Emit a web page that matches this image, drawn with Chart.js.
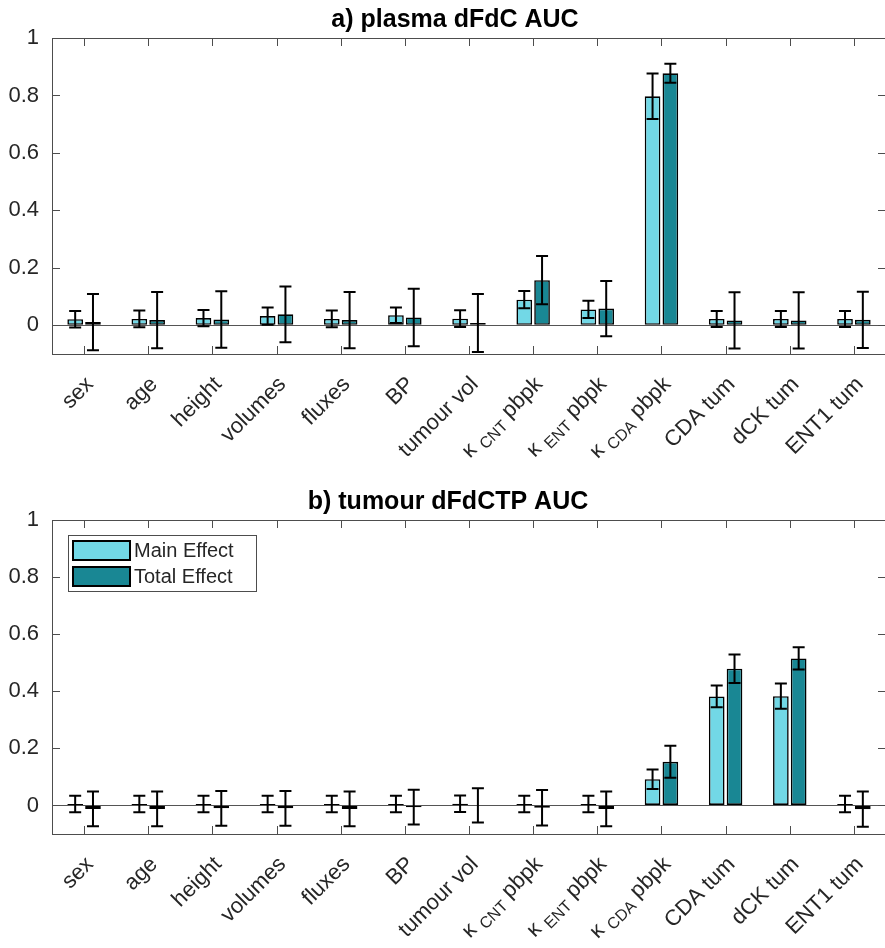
<!DOCTYPE html>
<html>
<head>
<meta charset="utf-8">
<script src="https://cdn.jsdelivr.net/npm/chart.js@4.4.1/dist/chart.umd.min.js"></script>
<style>
  html, body { margin: 0; padding: 0; background: #fff; overflow: hidden; width: 885px; height: 948px; }
  canvas { display: block; }
</style>
</head>
<body>
<canvas id="chartPlasma" width="888" height="474"></canvas>
<canvas id="chartTumour" width="888" height="474"></canvas>
<script>
// tex-like labels: _{...} is drawn as subscript
const categories = ['sex', 'age', 'height', 'volumes', 'fluxes', 'BP', 'tumour vol',
  'κ _{CNT} pbpk', 'κ _{ENT} pbpk', 'κ _{CDA} pbpk', 'CDA tum', 'dCK tum', 'ENT1 tum'];
const seriesNames = ['Main Effect', 'Total Effect'];
const yTicks = [0, 0.2, 0.4, 0.6, 0.8, 1];

// a) plasma dFdC AUC
const plasmaMain    = [0.021, 0.022, 0.025, 0.032, 0.022, 0.035, 0.023, 0.089, 0.055, 0.797, 0.022, 0.022, 0.022];
const plasmaMainErr = [0.029, 0.029, 0.028, 0.030, 0.029, 0.027, 0.029, 0.030, 0.030, 0.079, 0.028, 0.028, 0.028];
const plasmaTotal    = [0.011, 0.018, 0.020, 0.038, 0.018, 0.027, 0.008, 0.157, 0.058, 0.877, 0.017, 0.017, 0.019];
const plasmaTotalErr = [0.098, 0.098, 0.098, 0.097, 0.098, 0.100, 0.101, 0.084, 0.096, 0.033, 0.098, 0.098, 0.098];

// b) tumour dFdCTP AUC
const tumourMain    = [0.005, 0.005, 0.005, 0.005, 0.005, 0.005, 0.006, 0.005, 0.005, 0.092, 0.382, 0.383, 0.005];
const tumourMainErr = [0.029, 0.029, 0.029, 0.029, 0.029, 0.029, 0.029, 0.029, 0.029, 0.034, 0.038, 0.044, 0.029];
const tumourTotal    = [-0.012, -0.012, -0.010, -0.010, -0.012, -0.006, 0.000, -0.008, -0.012, 0.153, 0.479, 0.515, -0.013];
const tumourTotalErr = [0.061, 0.061, 0.061, 0.061, 0.061, 0.061, 0.060, 0.062, 0.061, 0.056, 0.050, 0.039, 0.062];

const FONT = '"Liberation Sans", Arial, Helvetica, sans-serif';
const TEXT = '#262626';
const MAIN_COLOR = '#72d8e6';
const TOTAL_COLOR = '#198794';

function drawTexLabel(ctx, text, size) {
  const parts = [];
  const re = /_\{([^}]*)\}/g;
  let last = 0, m;
  while ((m = re.exec(text))) {
    if (m.index > last) parts.push({ t: text.slice(last, m.index), sub: false });
    parts.push({ t: m[1], sub: true });
    last = re.lastIndex;
  }
  if (last < text.length) parts.push({ t: text.slice(last), sub: false });
  let total = 0;
  parts.forEach(p => {
    ctx.font = (p.sub ? Math.round(size * 0.72) : size) + 'px ' + FONT;
    p.w = ctx.measureText(p.t).width;
    total += p.w;
  });
  let x = -total;
  parts.forEach(p => {
    ctx.font = (p.sub ? Math.round(size * 0.72) : size) + 'px ' + FONT;
    ctx.fillText(p.t, x, p.sub ? size * 0.3 : 0);
    x += p.w;
  });
}

const matlabAxes = {
  id: 'matlabAxes',
  afterDatasetsDraw(chart) {
    const ctx = chart.ctx;
    const y = chart.scales.y;
    ctx.save();
    ctx.strokeStyle = '#000';
    ctx.lineWidth = 2;
    chart.data.datasets.forEach((ds, d) => {
      const meta = chart.getDatasetMeta(d);
      meta.data.forEach((bar, i) => {
        const v = ds.data[i], e = ds.errors[i];
        const yTop = y.getPixelForValue(v + e), yBot = y.getPixelForValue(v - e);
        const cap = 6;
        ctx.beginPath();
        ctx.moveTo(bar.x, yTop); ctx.lineTo(bar.x, yBot);
        ctx.moveTo(bar.x - cap, yTop); ctx.lineTo(bar.x + cap, yTop);
        ctx.moveTo(bar.x - cap, yBot); ctx.lineTo(bar.x + cap, yBot);
        ctx.stroke();
      });
    });
    ctx.restore();
  },
  afterDraw(chart, args, opts) {
    const ctx = chart.ctx;
    const a = chart.chartArea;
    const x = chart.scales.x, y = chart.scales.y;
    ctx.save();
    // box and inward ticks
    ctx.strokeStyle = '#4d4d4d';
    ctx.lineWidth = 1;
    ctx.strokeRect(Math.round(a.left) + 0.5, Math.round(a.top) + 0.5, a.right - a.left, a.bottom - a.top);
    ctx.beginPath();
    y.ticks.forEach(t => {
      const py = Math.round(y.getPixelForValue(t.value)) + 0.5;
      ctx.moveTo(a.left, py); ctx.lineTo(a.left + 8, py);
      ctx.moveTo(a.right, py); ctx.lineTo(a.right - 8, py);
    });
    categories.forEach((c, i) => {
      const px = Math.round(x.getPixelForValue(i)) + 0.5;
      ctx.moveTo(px, a.top); ctx.lineTo(px, a.top + 8);
      ctx.moveTo(px, a.bottom); ctx.lineTo(px, a.bottom - 8);
    });
    ctx.stroke();

    // rotated category labels
    ctx.fillStyle = TEXT;
    ctx.textBaseline = 'middle';
    ctx.textAlign = 'left';
    categories.forEach((c, i) => {
      ctx.save();
      ctx.translate(x.getPixelForValue(i) + 6, a.bottom + 27);
      ctx.rotate(-Math.PI / 4);
      drawTexLabel(ctx, c, 22);
      ctx.restore();
    });

    // title
    ctx.fillStyle = '#000';
    ctx.font = 'bold 25px ' + FONT;
    ctx.textAlign = 'center';
    ctx.textBaseline = 'alphabetic';
    ctx.fillText(opts.title, opts.titleX, a.top - 11);

    // legend box inside the axes
    if (opts.legend) {
      const lx = a.left + 16, ly = a.top + 15, lw = 188, lh = 56;
      ctx.fillStyle = '#fff';
      ctx.fillRect(lx, ly, lw, lh);
      ctx.strokeStyle = '#4d4d4d';
      ctx.lineWidth = 1;
      ctx.strokeRect(lx + 0.5, ly + 0.5, lw, lh);
      chart.data.datasets.forEach((ds, d) => {
        const py = ly + 6 + d * 26;
        ctx.fillStyle = ds.backgroundColor;
        ctx.fillRect(lx + 5, py, 57, 19);
        ctx.strokeStyle = '#000';
        ctx.lineWidth = 2;
        ctx.strokeRect(lx + 5, py, 57, 19);
        ctx.fillStyle = TEXT;
        ctx.font = '20px ' + FONT;
        ctx.textAlign = 'left';
        ctx.textBaseline = 'middle';
        ctx.fillText(ds.label, lx + 66, py + 10);
      });
    }
    ctx.restore();
  }
};

function makeChart(id, main, mainErr, total, totalErr, title, titleX, top, bottom, legend) {
  return new Chart(document.getElementById(id), {
    type: 'bar',
    data: {
      labels: categories,
      datasets: [
        { label: seriesNames[0], data: main, errors: mainErr, backgroundColor: MAIN_COLOR },
        { label: seriesNames[1], data: total, errors: totalErr, backgroundColor: TOTAL_COLOR }
      ]
    },
    options: {
      responsive: false,
      animation: false,
      devicePixelRatio: 1,
      layout: { padding: { top: top, bottom: bottom, left: 0, right: 2 } },
      datasets: {
        bar: {
          borderColor: '#000',
          borderWidth: 1.6,
          borderSkipped: false,
          categoryPercentage: 0.555,
          barPercentage: 0.88
        }
      },
      scales: {
        x: { type: 'category', display: false, offset: true },
        y: {
          min: -0.1,
          max: 1,
          afterBuildTicks: s => { s.ticks = yTicks.map(v => ({ value: v })); },
          afterFit: s => { s.width = 52; },
          border: { display: false },
          grid: {
            drawTicks: false,
            color: c => (c.tick && c.tick.value === 0 ? '#555555' : 'rgba(0,0,0,0)'),
            lineWidth: 1
          },
          ticks: {
            padding: 13,
            color: TEXT,
            font: { family: FONT, size: 22 },
            callback: v => String(Math.round(v * 10) / 10)
          }
        }
      },
      plugins: {
        legend: { display: false },
        tooltip: { enabled: false },
        matlabAxes: { title: title, titleX: titleX, legend: legend }
      }
    },
    plugins: [matlabAxes]
  });
}

makeChart('chartPlasma', plasmaMain, plasmaMainErr, plasmaTotal, plasmaTotalErr,
  'a) plasma dFdC AUC', 455, 38, 120, false);
makeChart('chartTumour', tumourMain, tumourMainErr, tumourTotal, tumourTotalErr,
  'b) tumour dFdCTP AUC', 448, 46, 114, true);
</script>
</body>
</html>
